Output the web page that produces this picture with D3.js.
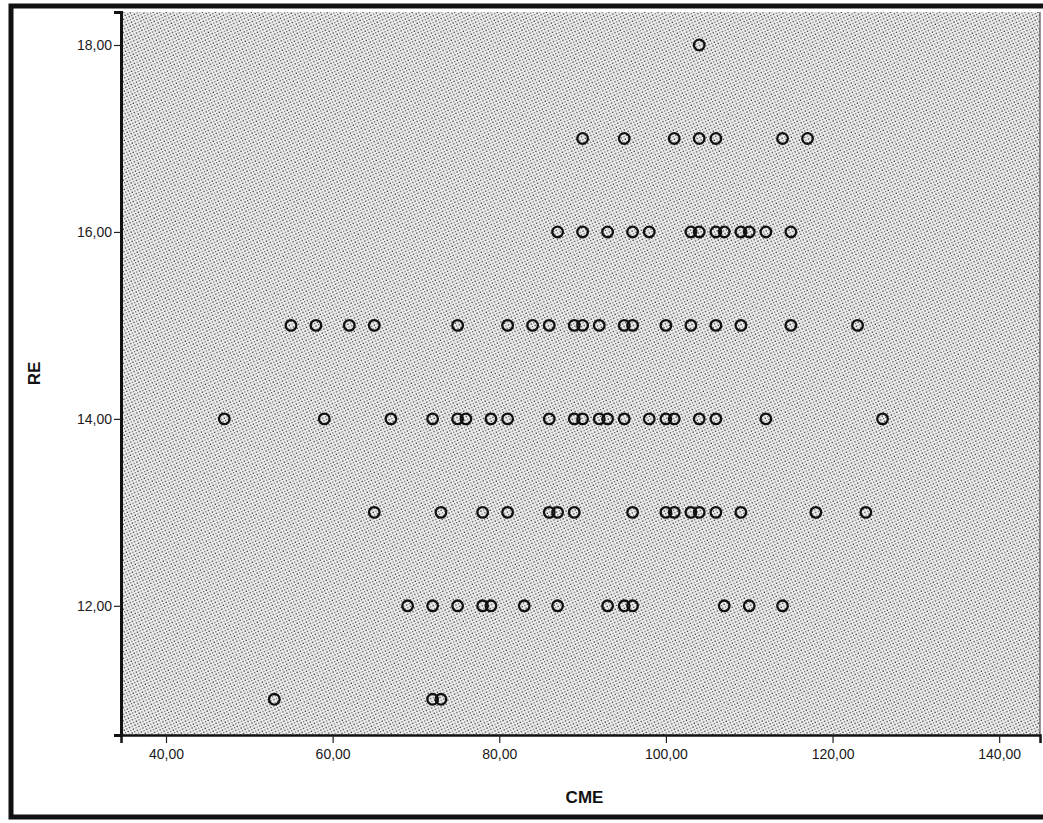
<!DOCTYPE html>
<html>
<head>
<meta charset="utf-8">
<script src="https://cdn.jsdelivr.net/npm/d3@7/dist/d3.min.js"></script>
<style>
  html, body { margin: 0; padding: 0; background: #fff; }
  svg { display: block; }
</style>
</head>
<body>
<svg id="chart" width="1043" height="823"></svg>
<script>
// RE levels and the CME scores observed at each level
const reLevels = [18, 17, 16, 15, 14, 13, 12, 11];
const cmeAtRE18 = [104];
const cmeAtRE17 = [90, 95, 101, 104, 106, 114, 117];
const cmeAtRE16 = [87, 90, 93, 96, 98, 103, 104, 106, 107, 109, 110, 112, 115];
const cmeAtRE15 = [55, 58, 62, 65, 75, 81, 84, 86, 89, 90, 92, 95, 96, 100, 103, 106, 109, 115, 123];
const cmeAtRE14 = [47, 59, 67, 72, 75, 76, 79, 81, 86, 89, 90, 92, 93, 95, 98, 100, 101, 104, 106, 112, 126];
const cmeAtRE13 = [65, 73, 78, 81, 86, 87, 89, 96, 100, 101, 103, 104, 106, 109, 118, 124];
const cmeAtRE12 = [69, 72, 75, 78, 79, 83, 87, 93, 95, 96, 107, 110, 114];
const cmeAtRE11 = [53, 72, 73];
const cmeByLevel = [cmeAtRE18, cmeAtRE17, cmeAtRE16, cmeAtRE15, cmeAtRE14, cmeAtRE13, cmeAtRE12, cmeAtRE11];

const xTicks = [40, 60, 80, 100, 120, 140];
const yTicks = [12, 14, 16, 18];
const xTitle = "CME";
const yTitle = "RE";

// flatten into points
const points = [];
reLevels.forEach((re, i) => cmeByLevel[i].forEach(cme => points.push({ cme, re })));

const svg = d3.select("#chart");
const plot = { left: 121, right: 1040, top: 12, bottom: 735 };
const fontFamily = "Liberation Sans, Arial, sans-serif";

const x = d3.scaleLinear().domain([34.6, 144.9]).range([plot.left, plot.right]);
const y = d3.scaleLinear().domain([10.618, 18.353]).range([plot.bottom, plot.top]);

// stippled plot background
const defs = svg.append("defs");
const pat = defs.append("pattern")
  .attr("id", "stipple")
  .attr("patternUnits", "userSpaceOnUse")
  .attr("width", 4.2).attr("height", 4.2)
  .attr("patternTransform", "rotate(20)");
pat.append("rect").attr("width", 4.2).attr("height", 4.2).attr("fill", "#efefef");
pat.append("rect").attr("x", 0.4).attr("y", 0.4).attr("width", 1.3).attr("height", 1.3).attr("fill", "#2e2e2e");
pat.append("rect").attr("x", 2.5).attr("y", 2.5).attr("width", 1.2).attr("height", 1.2).attr("fill", "#555");

svg.append("rect")
  .attr("x", plot.left).attr("y", plot.top)
  .attr("width", plot.right - plot.left).attr("height", plot.bottom - plot.top)
  .attr("fill", "url(#stipple)");

// right edge of plot panel
svg.append("line")
  .attr("x1", plot.right).attr("x2", plot.right)
  .attr("y1", plot.top).attr("y2", plot.bottom)
  .attr("stroke", "#333").attr("stroke-width", 1);

// axes
const fmt = d => d3.format(".2f")(d).replace(".", ",");
const xAxis = d3.axisBottom(x).tickValues(xTicks).tickSize(8).tickPadding(6).tickFormat(fmt);
const yAxis = d3.axisLeft(y).tickValues(yTicks).tickSize(7).tickPadding(2).tickFormat(fmt);

const gx = svg.append("g").attr("transform", `translate(0,${plot.bottom})`).call(xAxis);
gx.select(".domain").attr("stroke", "#111").attr("stroke-width", 2.5);
gx.selectAll(".tick line").attr("stroke", "#222").attr("stroke-width", 1.2);

const gy = svg.append("g").attr("transform", `translate(${plot.left},0)`).call(yAxis);
gy.select(".domain").attr("stroke", "#111").attr("stroke-width", 3);
gy.selectAll(".tick line").attr("stroke", "#222").attr("stroke-width", 1.2);

[gx, gy].forEach(g => g.selectAll(".tick text")
  .attr("font-family", fontFamily).attr("font-size", 14).attr("fill", "#1a1a1a"));

// axis titles
svg.append("text")
  .attr("x", (plot.left + plot.right) / 2 + 4).attr("y", 803)
  .attr("text-anchor", "middle")
  .attr("font-family", fontFamily)
  .attr("font-weight", "bold").attr("font-size", 17).attr("fill", "#111")
  .text(xTitle);

svg.append("text")
  .attr("transform", `translate(40,${(plot.top + plot.bottom) / 2}) rotate(-90)`)
  .attr("text-anchor", "middle")
  .attr("font-family", fontFamily)
  .attr("font-weight", "bold").attr("font-size", 17).attr("fill", "#111")
  .text(yTitle);

// markers
svg.append("g").selectAll("circle")
  .data(points)
  .join("circle")
  .attr("cx", d => x(d.cme))
  .attr("cy", d => y(d.re))
  .attr("r", 5.3)
  .attr("fill", "none")
  .attr("stroke", "#111")
  .attr("stroke-width", 2.3);

// outer frame
svg.append("rect")
  .attr("x", 11).attr("y", 6)
  .attr("width", 1043).attr("height", 811)
  .attr("fill", "none")
  .attr("stroke", "#111").attr("stroke-width", 5);
</script>
</body>
</html>
